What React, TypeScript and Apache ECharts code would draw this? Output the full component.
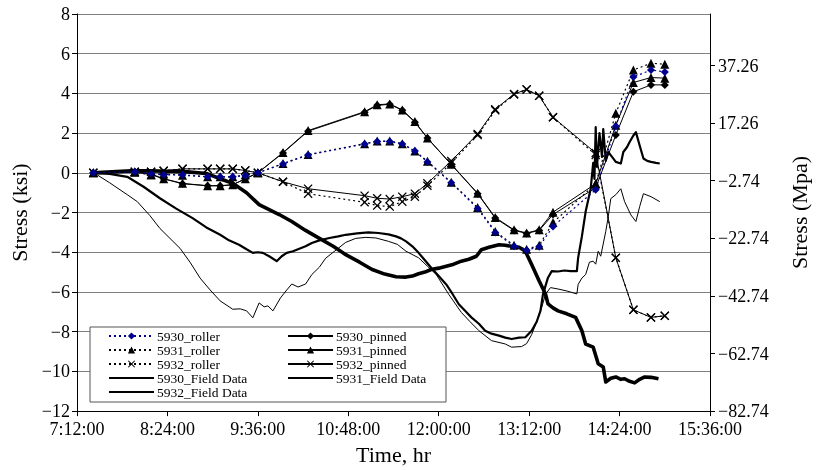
import React, { useEffect, useRef } from 'react';
import * as echarts from 'echarts';

// time in minutes after midnight
const modelTimes = [445, 478, 491, 501, 516, 536, 546, 556, 566, 576, 596, 616, 661, 671, 681, 691, 701, 711, 730, 751, 765, 780, 790, 800, 811, 845, 861, 875, 889, 900];

const roller5930 = [0, 0.05, -0.05, -0.1, -0.1, -0.2, -0.2, -0.2, -0.15, 0, 0.45, 0.9, 1.45, 1.58, 1.58, 1.45, 1.1, 0.55, -0.5, -1.8, -3.0, -3.7, -3.9, -3.72, -2.7, -0.85, 2.35, 4.83, 5.18, 5.08];
const roller5931 = [0, 0.03, -0.1, -0.05, -0.12, -0.2, -0.2, -0.2, -0.1, 0, 0.47, 0.92, 1.47, 1.6, 1.6, 1.47, 1.1, 0.58, -0.48, -1.75, -2.95, -3.65, -3.85, -3.65, -2.5, -0.55, 3.0, 5.18, 5.52, 5.47];
const roller5932 = [0, 0.05, 0.05, 0.1, 0.2, 0.2, 0.2, 0.2, 0.12, 0, -0.45, -1.05, -1.48, -1.65, -1.7, -1.45, -1.2, -0.65, 0.5, 1.9, 3.15, 3.95, 4.2, 3.88, 2.8, 0.9, -4.28, -6.9, -7.28, -7.2];
const pinned5930 = [0, 0.05, -0.05, -0.3, -0.55, -0.65, -0.65, -0.6, -0.3, 0, 1.0, 2.1, 3.05, 3.4, 3.45, 3.15, 2.55, 1.75, 0.42, -1.05, -2.28, -2.9, -3.05, -2.9, -2.1, -0.75, 1.9, 4.08, 4.43, 4.43];
const pinned5931 = [0, 0.05, -0.1, -0.3, -0.53, -0.65, -0.65, -0.6, -0.3, 0, 1.02, 2.13, 3.08, 3.43, 3.47, 3.17, 2.58, 1.75, 0.43, -1.03, -2.25, -2.87, -3.03, -2.87, -1.98, -0.55, 2.4, 4.55, 4.8, 4.77];
const pinned5932 = [0, 0.05, 0.05, 0.1, 0.2, 0.2, 0.2, 0.2, 0.12, 0, -0.45, -0.8, -1.15, -1.28, -1.32, -1.2, -1.05, -0.53, 0.6, 1.96, 3.2, 3.97, 4.2, 3.88, 2.8, 1.0, -4.28, -6.9, -7.28, -7.2];

const field5930Times = [445, 448, 458, 472, 480, 490, 498, 506, 514, 522, 530, 538, 546, 556, 562, 567, 572, 577, 581, 584, 588, 594, 599, 603, 608, 614, 619, 625, 630, 640, 646, 654, 662, 670, 680, 687, 694, 704, 711, 718, 728, 738, 745, 752, 762, 773, 778, 786, 790, 794, 798, 802, 805, 809, 815, 822, 830, 831, 834, 837, 840, 843, 845, 847, 849, 853, 855, 857, 861, 865, 868, 873, 877, 880, 883, 889, 896];
const field5930Values = [0, -0.1, -0.5, -1.1, -1.45, -2.15, -2.8, -3.3, -3.8, -4.5, -5.3, -5.9, -6.45, -6.87, -6.85, -6.95, -7.3, -6.55, -6.75, -6.7, -6.95, -6.3, -5.9, -5.6, -5.75, -5.6, -5.12, -4.75, -4.3, -3.8, -3.5, -3.3, -3.25, -3.28, -3.45, -3.6, -3.95, -4.28, -4.7, -5.12, -6.12, -7.03, -7.5, -7.95, -8.45, -8.62, -8.78, -8.75, -8.6, -8.15, -7.5, -6.78, -6.12, -5.78, -5.85, -5.95, -6.1, -5.62, -5.3, -5.12, -4.5, -4.45, -4.6, -3.95, -4.2, -2.95, -2.2, -1.3, -1.1, -0.8, -1.45, -2.12, -2.45, -1.7, -1.05, -1.2, -1.45];

const field5931Times = [445, 458, 472, 485, 498, 511, 524, 535, 546, 553, 561, 567, 572, 576, 580, 585, 591, 595, 599, 604, 609, 614, 619, 625, 633, 640, 646, 655, 664, 672, 680, 686, 690, 694, 699, 704, 709, 714, 720, 726, 731, 736, 741, 746, 752, 757, 762, 768, 773, 778, 784, 789, 794, 798, 801, 803, 807, 810, 815, 820, 825, 830, 831, 834, 837, 841, 843, 844, 845, 846, 848, 850, 851, 853, 855, 858, 861, 865, 867, 870, 872, 875, 877, 880, 883, 886, 889, 893, 896];
const field5931Values = [0, -0.05, -0.2, -0.7, -1.28, -1.8, -2.28, -2.75, -3.12, -3.4, -3.62, -3.85, -4.03, -4.0, -4.03, -4.2, -4.45, -4.2, -4.03, -3.95, -3.82, -3.7, -3.53, -3.4, -3.28, -3.2, -3.12, -3.05, -3.0, -3.03, -3.1, -3.2, -3.3, -3.45, -3.7, -4.03, -4.4, -4.78, -5.2, -5.62, -6.1, -6.62, -6.95, -7.28, -7.6, -7.95, -8.1, -8.2, -8.3, -8.37, -8.3, -8.28, -7.95, -7.5, -6.95, -6.12, -5.28, -4.95, -4.97, -4.92, -4.95, -4.95, -4.28, -3.2, -1.95, -0.8, 0.5, -0.3, 2.3, 0.3, 2.0, 0.8, 2.2, 0.6, 1.05, 0.8, 0.55, 0.47, 1.05, 1.3, 1.55, 1.88, 2.05, 1.38, 0.72, 0.6, 0.55, 0.5, 0.47];

const field5932Times = [445, 460, 475, 490, 505, 520, 535, 546, 556, 567, 577, 585, 593, 603, 614, 625, 636, 646, 657, 667, 677, 686, 694, 699, 704, 709, 714, 720, 726, 732, 738, 744, 750, 754, 760, 768, 773, 778, 784, 789, 794, 800, 805, 807, 811, 815, 822, 829, 834, 837, 840, 843, 847, 851, 853, 857, 861, 865, 868, 872, 876, 880, 884, 889, 895];
const field5932Values = [0, 0.05, 0.1, 0.1, 0.08, 0.05, -0.03, -0.3, -0.53, -1.0, -1.6, -1.85, -2.1, -2.45, -2.9, -3.3, -3.7, -4.12, -4.5, -4.87, -5.1, -5.23, -5.25, -5.2, -5.08, -5.0, -4.87, -4.8, -4.7, -4.6, -4.45, -4.35, -4.2, -3.87, -3.75, -3.62, -3.65, -3.7, -3.75, -3.95, -4.62, -5.45, -6.1, -6.6, -6.8, -6.95, -7.1, -7.28, -7.95, -8.62, -8.7, -8.78, -9.62, -9.78, -10.53, -10.35, -10.28, -10.4, -10.37, -10.5, -10.58, -10.4, -10.28, -10.3, -10.37];

const KSI_TO_MPA = 6.895;
const MPA_OFFSET = 82.74;

const FONT = "'Liberation Serif', 'Times New Roman', serif";
const CROSS = 'path://M0,1L1,0L5,4L9,0L10,1L6,5L10,9L9,10L5,6L1,10L0,9L4,5Z';
const BLUE = '#00008f';

const pair = (ts: number[], vs: number[]) => ts.map((t, i) => [t, vs[i]]);
const minus = (s: string) => s.replace('-', '\u2212');

export default function App() {
  const ref = useRef<HTMLDivElement>(null);
  useEffect(() => {
    const chart = echarts.init(ref.current!, null, { renderer: 'svg' });
    const model = (name: string, vals: number[], symbol: string, size: number, color: string, dotted: boolean) => ({
      name,
      type: 'line',
      data: pair(modelTimes, vals),
      symbol,
      symbolSize: size,
      showSymbol: true,
      showAllSymbol: true,
      lineStyle: { color, width: dotted ? 1.2 : 1, type: dotted ? [2, 3] : 'solid' },
      itemStyle: { color },
      z: 4,
      silent: true,
    });
    const field = (name: string, ts: number[], vs: number[], width: number) => ({
      name,
      type: 'line',
      data: pair(ts, vs),
      symbol: 'none',
      showSymbol: false,
      lineStyle: { color: '#000', width, join: 'round' },
      itemStyle: { color: 'rgba(0,0,0,0)', borderWidth: 0 },
      z: 3,
      silent: true,
    });
    const legendBase = {
      orient: 'vertical',
      itemWidth: 45,
      itemHeight: 9,
      itemGap: 0,
      selectedMode: false,
      padding: 0,
      z: 60,
      textStyle: { fontFamily: FONT, fontSize: 13.5, color: '#000', lineHeight: 13.6, padding: [0, 0, 0, -2] },
    };
    chart.setOption({
      animation: false,
      grid: { left: 77, right: 106, top: 14, bottom: 56 },
      graphic: [
        {
          type: 'rect',
          z: 50,
          shape: { x: 90, y: 327, width: 356, height: 75 },
          style: { fill: '#fff', stroke: '#555', lineWidth: 1 },
        },
      ],
      legend: [
        { ...legendBase, left: 108, top: 329, data: ['5930_roller', '5931_roller', '5932_roller', '5930_Field Data', '5932_Field Data'] },
        { ...legendBase, left: 287, top: 329, data: ['5930_pinned', '5931_pinned', '5932_pinned', '5931_Field Data'] },
      ],
      xAxis: {
        type: 'value',
        min: 432,
        max: 936,
        interval: 72,
        name: 'Time, hr',
        nameLocation: 'middle',
        nameGap: 31,
        nameTextStyle: { fontFamily: FONT, fontSize: 22, color: '#000' },
        axisLine: { show: true, onZero: false, lineStyle: { color: '#000', width: 1 } },
        axisTick: { show: true, length: 5, lineStyle: { color: '#000' } },
        splitLine: { show: false },
        axisLabel: {
          fontFamily: FONT,
          fontSize: 18,
          color: '#000',
          margin: 9,
          formatter: (v: number) => {
            const h = Math.floor(v / 60);
            const m = Math.round(v - h * 60);
            return `${h}:${m < 10 ? '0' : ''}${m}:00`;
          },
        },
      },
      yAxis: [
        {
          type: 'value',
          min: -12,
          max: 8,
          interval: 2,
          name: 'Stress (ksi)',
          nameLocation: 'middle',
          nameRotate: 90,
          nameGap: 45,
          nameTextStyle: { fontFamily: FONT, fontSize: 22, color: '#000' },
          axisLine: { show: true, onZero: false, lineStyle: { color: '#000', width: 1 } },
          axisTick: { show: true, length: 5, lineStyle: { color: '#000' } },
          splitLine: { show: true, lineStyle: { color: '#808080', width: 1 } },
          axisLabel: { fontFamily: FONT, fontSize: 18, color: '#000', margin: 7, formatter: (v: number) => minus(String(v)) },
        },
        {
          type: 'value',
          position: 'right',
          min: 0,
          max: 20 * KSI_TO_MPA,
          interval: 20,
          name: 'Stress (Mpa)',
          nameLocation: 'middle',
          nameRotate: 90,
          nameGap: 78,
          nameTextStyle: { fontFamily: FONT, fontSize: 22, color: '#000' },
          axisLine: { show: true, onZero: false, lineStyle: { color: '#000', width: 1 } },
          axisTick: { show: true, length: 5, lineStyle: { color: '#000' } },
          splitLine: { show: false },
          axisLabel: {
            fontFamily: FONT,
            fontSize: 18,
            color: '#000',
            margin: 8,
            showMaxLabel: false,
            formatter: (v: number) => minus((v - MPA_OFFSET).toFixed(2)),
          },
        },
      ],
      series: [
        field('5930_Field Data', field5930Times, field5930Values, 1),
        field('5931_Field Data', field5931Times, field5931Values, 2.2),
        field('5932_Field Data', field5932Times, field5932Values, 3.6),
        model('5930_pinned', pinned5930, 'diamond', 8, '#000', false),
        model('5931_pinned', pinned5931, 'triangle', 9, '#000', false),
        model('5932_pinned', pinned5932, CROSS, 9, '#000', false),
        model('5932_roller', roller5932, CROSS, 9, '#000', true),
        model('5931_roller', roller5931, 'triangle', 9, '#000', true),
        model('5930_roller', roller5930, 'diamond', 8, BLUE, true),
      ],
    });
    return () => chart.dispose();
  }, []);
  return <div ref={ref} style={{ position: 'fixed', left: 0, top: 0, width: 818, height: 470 }} />;
}
